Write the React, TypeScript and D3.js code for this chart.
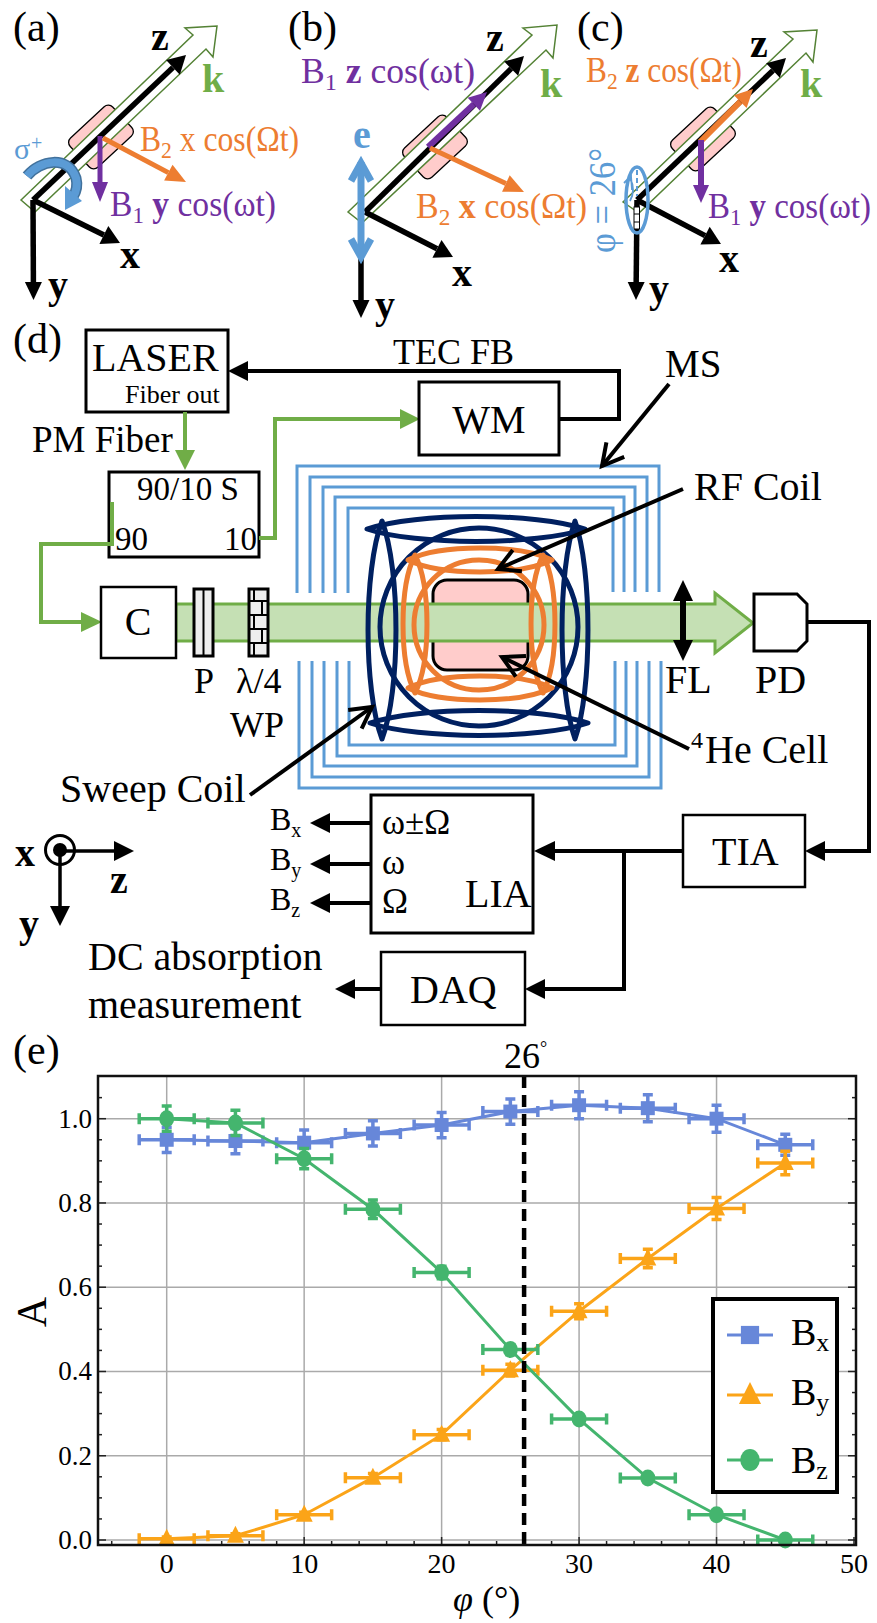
import React from "react";
import * as d3 from "d3";

// ---------- chart (e) data ----------
const angles = [0, 5, 10, 15, 20, 25, 30, 35, 40, 45];
const bxValues = [0.95, 0.947, 0.943, 0.965, 0.985, 1.017, 1.032, 1.025, 1.0, 0.938];
const byValues = [0.003, 0.01, 0.06, 0.148, 0.25, 0.403, 0.543, 0.668, 0.787, 0.895];
const bzValues = [1.0, 0.99, 0.905, 0.785, 0.635, 0.452, 0.287, 0.147, 0.06, 0.0];
const bxErrors = [0.03, 0.03, 0.03, 0.03, 0.03, 0.03, 0.032, 0.032, 0.032, 0.025];
const byErrors = [0.004, 0.005, 0.006, 0.01, 0.012, 0.014, 0.018, 0.022, 0.026, 0.028];
const bzErrors = [0.03, 0.03, 0.024, 0.022, 0.015, 0.012, 0.01, 0.01, 0.008, 0.008];
const angleError = 2;
const xTickValues = [0, 10, 20, 30, 40, 50];
const yTickValues = [0, 0.2, 0.4, 0.6, 0.8, 1.0];
const markedAngle = 26;

const F = "'Liberation Serif', serif";
const PURPLE = "#7030a0";
const ORANGE = "#ed7d31";
const GREEN = "#70ad47";
const BLUE = "#5b9bd5";
const NAVY = "#002060";
const PINK = "#ffcccb";
const BEAM = "#c5e0b4";
const CX = "#6787d9";
const CY = "#fba418";
const CZ = "#44b56e";

type A = { x1: number; y1: number; x2: number; y2: number; c?: string; w?: number; hl?: number; hw?: number };
function Arrow({ x1, y1, x2, y2, c = "#000", w = 5, hl = 20, hw = 20 }: A) {
  const a = Math.atan2(y2 - y1, x2 - x1);
  const bx = x2 - hl * Math.cos(a), by = y2 - hl * Math.sin(a);
  const nx = -Math.sin(a) * hw / 2, ny = Math.cos(a) * hw / 2;
  return (
    <g>
      <line x1={x1} y1={y1} x2={bx} y2={by} stroke={c} strokeWidth={w} />
      <polygon points={`${x2},${y2} ${bx + nx},${by + ny} ${bx - nx},${by - ny}`} fill={c} />
    </g>
  );
}
function OpenArrow({ x1, y1, x2, y2, w = 4, hl = 24 }: A) {
  const a = Math.atan2(y2 - y1, x2 - x1);
  const p = (s: number) => `${x2 - hl * Math.cos(a + s)},${y2 - hl * Math.sin(a + s)}`;
  return (
    <g fill="none" stroke="#000" strokeWidth={w}>
      <line x1={x1} y1={y1} x2={x2} y2={y2} />
      <polyline points={`${p(0.5)} ${x2},${y2} ${p(-0.5)}`} />
    </g>
  );
}
function T({ x, y, s = 40, c = "#000", b = false, i = false, children, len, anchor }: any) {
  return (
    <text x={x} y={y} fontFamily={F} fontSize={s} fill={c} fontWeight={b ? 700 : 400} fontStyle={i ? "italic" : "normal"}
      textLength={len} lengthAdjust={len ? "spacing" : undefined} textAnchor={anchor}>
      {children}
    </text>
  );
}
function Field({ x, y, c, sub, axis, bold, freq, len }: any) {
  return (
    <text x={x} y={y} fontFamily={F} fontSize={35} fill={c} textLength={len} lengthAdjust="spacingAndGlyphs">
      B<tspan dy={7} fontSize={24}>{sub}</tspan>
      <tspan dy={-7}> </tspan>
      <tspan fontWeight={bold ? 700 : 400}>{axis}</tspan> cos({freq}t)
    </text>
  );
}
function Hollow({ pts }: { pts: string }) {
  return <polygon points={pts} fill="#fff" stroke="#548235" strokeWidth={1.5} strokeLinejoin="miter" />;
}
function Cell({ cx, cy }: { cx: number; cy: number }) {
  return <rect x={cx - 29} y={cy - 20} width={58} height={40} rx={6} transform={`rotate(-43 ${cx} ${cy})`} fill={PINK} stroke="#000" strokeWidth={1.3} />;
}
function Lens({ cx, cy, hw, hh, vertical, c }: any) {
  const k = 1.33;
  const d = vertical
    ? `M${cx},${cy - hw} C${cx - hh * k},${cy - hw * 0.55} ${cx - hh * k},${cy + hw * 0.55} ${cx},${cy + hw} C${cx + hh * k},${cy + hw * 0.55} ${cx + hh * k},${cy - hw * 0.55} ${cx},${cy - hw}Z`
    : `M${cx - hw},${cy} C${cx - hw * 0.55},${cy - hh * k} ${cx + hw * 0.55},${cy - hh * k} ${cx + hw},${cy} C${cx + hw * 0.55},${cy + hh * k} ${cx - hw * 0.55},${cy + hh * k} ${cx - hw},${cy}Z`;
  return <path d={d} fill="none" stroke={c} strokeWidth={5} strokeLinejoin="round" />;
}

// shield lines: one item per layer
const shieldTop = [466, 477, 487, 497, 508];
const shieldBottom = [788, 777, 766, 756, 745];
const shieldLeftTop = [297, 310, 323, 335, 348];
const shieldRightTop = [659, 647, 635, 624, 613];
const shieldLeftBottom = [299, 312, 324, 337, 349];
const shieldRightBottom = [661, 649, 637, 626, 615];

function Schematic() {
  return (
    <g>
      {/* (a) */}
      <T x={13} y={41} s={42}>(a)</T>
      <Cell cx={101} cy={137} />
      <Hollow pts="21,200 193,35 185,28 217,26 213,57 206,49 35,212" />
      <Arrow x1={33} y1={200} x2={186} y2={55} w={5.5} hl={18} hw={20} />
      <Arrow x1={33} y1={200} x2={33.5} y2={300} w={5.5} hl={18} hw={17} />
      <Arrow x1={33} y1={200} x2={120} y2={243} w={5.5} hl={18} hw={20} />
      <Arrow x1={100} y1={136} x2={100} y2={202} c={PURPLE} hl={20} hw={16} />
      <Arrow x1={103} y1={138} x2={186} y2={182} c={ORANGE} hl={20} hw={18} />
      <path d="M27,176 C40,160 68,155 76,178 C78,186 76,192 73,197" fill="none" stroke="#41719c" strokeWidth={11} />
      <path d="M27,176 C40,160 68,155 76,178 C78,186 76,192 73,197" fill="none" stroke={BLUE} strokeWidth={8} />
      <polygon points="65,210 82,201 65,186" fill={BLUE} />
      <T x={14} y={159} s={30} c={BLUE}>σ</T>
      <T x={31} y={150} s={20} c={BLUE}>+</T>
      <T x={151} y={50} s={40} b>z</T>
      <T x={202} y={92} s={40} b c={GREEN}>k</T>
      <T x={120} y={268} s={40} b>x</T>
      <T x={48} y={298} s={40} b>y</T>
      <Field x={140} y={151} c={ORANGE} sub="2" axis="x" freq="Ω" len={159} />
      <Field x={110} y={216} c={PURPLE} sub="1" axis="y" bold freq="ω" len={166} />

      {/* (b) */}
      <T x={288} y={41} s={42}>(b)</T>
      <Cell cx={435} cy={147} />
      <Hollow pts="348,212 532,35 523,28 557,25 553,58 546,50 362,223" />
      <Arrow x1={365} y1={212} x2={524} y2={56} w={5.5} hl={18} hw={20} />
      <Arrow x1={361} y1={212} x2={361} y2={318} w={5.5} hl={18} hw={17} />
      <Arrow x1={365} y1={212} x2={453} y2={257} w={5.5} hl={18} hw={20} />
      <Arrow x1={428} y1={147} x2={487} y2={92} c={PURPLE} w={6} hl={18} hw={18} />
      <Arrow x1={430} y1={148} x2={524} y2={192} c={ORANGE} hl={20} hw={18} />
      <line x1={361} y1={162} x2={361} y2={256} stroke={BLUE} strokeWidth={7} />
      <polyline points="351,181 361,163 371,181" fill="none" stroke={BLUE} strokeWidth={7} />
      <polyline points="351,239 361,257 371,239" fill="none" stroke={BLUE} strokeWidth={7} />
      <T x={353} y={148} s={40} b c={BLUE}>e</T>
      <T x={486} y={51} s={40} b>z</T>
      <T x={540} y={97} s={40} b c={GREEN}>k</T>
      <T x={452} y={286} s={40} b>x</T>
      <T x={375} y={318} s={40} b>y</T>
      <Field x={301} y={83} c={PURPLE} sub="1" axis="z" bold freq="ω" len={174} />
      <Field x={416} y={218} c={ORANGE} sub="2" axis="x" bold freq="Ω" len={171} />

      {/* (c) */}
      <T x={577} y={41} s={42}>(c)</T>
      <Cell cx={703} cy={139} />
      <Hollow pts="623,202 793,39 784,32 817,30 813,62 806,53 639,213" />
      <Arrow x1={637} y1={200} x2={786} y2={58} w={5.5} hl={18} hw={20} />
      <Arrow x1={637} y1={200} x2={636} y2={300} w={5.5} hl={18} hw={17} />
      <Arrow x1={637} y1={200} x2={721} y2={244} w={5.5} hl={18} hw={20} />
      <Arrow x1={700} y1={142} x2={753} y2={89} c={ORANGE} w={6} hl={18} hw={18} />
      <Arrow x1={701} y1={140} x2={701} y2={203} c={PURPLE} w={6} hl={18} hw={16} />
      <rect x={634} y={207} width={5.5} height={22} fill="#fff" stroke="#000" strokeWidth={1} />
      <path d="M634,214 h5.5 M634,222 h5.5" stroke="#000" strokeWidth={1} />
      <line x1={637} y1={170} x2={637} y2={196} stroke={BLUE} strokeWidth={2} strokeDasharray="5 3" />
      <path d="M624,183 L631,176 L632,190 M630,178 Q636,190 630,201" fill="none" stroke={BLUE} strokeWidth={1.8} />
      <ellipse cx={637} cy={200} rx={11} ry={33} fill="none" stroke={BLUE} strokeWidth={3.5} />
      <text transform="rotate(-90 615 253)" x={615} y={253} fontFamily={F} fontSize={37} fill={BLUE} textLength={105} lengthAdjust="spacingAndGlyphs">φ = 26°</text>
      <T x={750} y={57} s={40} b>z</T>
      <T x={800} y={97} s={40} b c={GREEN}>k</T>
      <T x={719} y={272} s={40} b>x</T>
      <T x={649} y={302} s={40} b>y</T>
      <Field x={586} y={82} c={ORANGE} sub="2" axis="z" bold freq="Ω" len={156} />
      <Field x={708} y={218} c={PURPLE} sub="1" axis="y" bold freq="ω" len={163} />

      {/* (d) boxes */}
      <T x={13} y={353} s={42}>(d)</T>
      <rect x={86} y={330} width={142} height={82} fill="#fff" stroke="#000" strokeWidth={3} />
      <T x={92} y={371} s={40}>LASER</T>
      <T x={125} y={403} s={26}>Fiber out</T>
      <T x={32} y={452} s={37}>PM Fiber</T>
      <Arrow x1={185} y1={412} x2={185} y2={470} c={GREEN} w={4} />
      <rect x={109} y={472} width={150} height={85} fill="#fff" stroke="#000" strokeWidth={3} />
      <T x={137} y={500} s={33}>90/10 S</T>
      <T x={115} y={550} s={33}>90</T>
      <T x={224} y={550} s={33}>10</T>
      <polyline points="259,538 275,538 275,419 402,419" fill="none" stroke={GREEN} strokeWidth={4} />
      <polygon points="420,419 400,409 400,429" fill={GREEN} />
      <polyline points="112,502 112,544 41,544 41,622 84,622" fill="none" stroke={GREEN} strokeWidth={4} />
      <polygon points="102,622 81,612 81,632" fill={GREEN} />
      <rect x={419} y={382} width={140} height={73} fill="#fff" stroke="#000" strokeWidth={3} />
      <T x={489} y={433} s={40} anchor="middle">WM</T>
      <polyline points="559,419 619,419 619,371 246,371" fill="none" stroke="#000" strokeWidth={4} />
      <polygon points="228,371 248,361 248,381" fill="#000" />
      <T x={393} y={364} s={36}>TEC FB</T>

      {/* shields */}
      <g fill="none" stroke={BLUE} strokeWidth={3}>
        {shieldTop.map((t, i) => (
          <path key={i} d={`M${shieldLeftTop[i]},593 V${t} H${shieldRightTop[i]} V592`} />
        ))}
        {shieldBottom.map((b, i) => (
          <path key={i} d={`M${shieldLeftBottom[i]},661 V${b} H${shieldRightBottom[i]} V661`} />
        ))}
      </g>

      {/* cell and beam */}
      <rect x={433} y={580} width={95} height={90} rx={14} fill={PINK} stroke="#000" strokeWidth={3} />
      <polygon points="176,604 715,604 715,593 753,623 715,653 715,641 176,641" fill={BEAM} stroke={GREEN} strokeWidth={3} />
      <rect x={101} y={587} width={75} height={71} fill="#fff" stroke="#000" strokeWidth={2.5} />
      <T x={138} y={635} s={40} anchor="middle">C</T>
      <rect x={194} y={589} width={19} height={67} fill="#eee" stroke="#000" strokeWidth={3} />
      <line x1={203.5} y1={589} x2={203.5} y2={656} stroke="#000" strokeWidth={2} />
      <rect x={249} y={589} width={19} height={67} fill="#eee" stroke="#000" strokeWidth={3} />
      <path d="M249,601 H268 M249,615 H268 M249,629 H268 M249,643 H268 M254,589 V601 M262,601 V615 M254,615 V629 M262,629 V643 M254,643 V656" stroke="#000" strokeWidth={2} fill="none" />
      <T x={194} y={693} s={36}>P</T>
      <T x={236} y={693} s={36}>λ/4</T>
      <T x={230} y={737} s={36}>WP</T>

      {/* coils */}
      <circle cx={479} cy={627} r={99} fill="none" stroke={NAVY} strokeWidth={5} />
      <Lens cx={476} cy={529} hw={109} hh={12.5} c={NAVY} />
      <Lens cx={479} cy={723} hw={109} hh={12.5} c={NAVY} />
      <Lens cx={382} cy={630} hw={109} hh={14} vertical c={NAVY} />
      <Lens cx={575} cy={630} hw={109} hh={13} vertical c={NAVY} />
      <circle cx={479} cy={625} r={65} fill="none" stroke={ORANGE} strokeWidth={5} />
      <Lens cx={480} cy={560} hw={72} hh={12} c={ORANGE} />
      <Lens cx={480} cy={688} hw={72} hh={12} c={ORANGE} />
      <Lens cx={415} cy={624} hw={69} hh={12} vertical c={ORANGE} />
      <Lens cx={543} cy={624} hw={69} hh={12} vertical c={ORANGE} />

      {/* pointers */}
      <OpenArrow x1={669} y1={384} x2={602} y2={466} />
      <OpenArrow x1={683} y1={489} x2={498} y2={569} />
      <OpenArrow x1={689} y1={749} x2={502} y2={657} />
      <OpenArrow x1={250} y1={795} x2={372} y2={707} />
      <T x={665} y={377} s={39}>MS</T>
      <T x={694} y={500} s={40}>RF Coil</T>
      <T x={691} y={748} s={24}>4</T>
      <T x={705} y={763} s={40}>He Cell</T>
      <T x={60} y={802} s={40}>Sweep Coil</T>

      {/* focusing lens, detector */}
      <line x1={683} y1={598} x2={683} y2={643} stroke="#000" strokeWidth={6} />
      <polygon points="683,580 673,601 693,601" fill="#000" />
      <polygon points="683,661 673,640 693,640" fill="#000" />
      <T x={665} y={693} s={40}>FL</T>
      <polygon points="754,594 797,594 807,604 807,641 797,651 754,651" fill="#fff" stroke="#000" strokeWidth={3} />
      <T x={755} y={693} s={40}>PD</T>
      <polyline points="807,622 869,622 869,851 823,851" fill="none" stroke="#000" strokeWidth={4} />
      <polygon points="805,851 825,841 825,861" fill="#000" />
      <rect x={683} y={815} width={122} height={72} fill="#fff" stroke="#000" strokeWidth={2.5} />
      <T x={712} y={865} s={40}>TIA</T>

      {/* LIA, DAQ */}
      <line x1={683} y1={851} x2={552} y2={851} stroke="#000" strokeWidth={4} />
      <polygon points="534,851 555,841 555,861" fill="#000" />
      <rect x={371} y={795} width={162} height={138} fill="#fff" stroke="#000" strokeWidth={3} />
      <T x={382} y={834} s={35}>ω±Ω</T>
      <T x={382} y={874} s={35}>ω</T>
      <T x={382} y={913} s={35}>Ω</T>
      <T x={465} y={907} s={40}>LIA</T>
      <Arrow x1={371} y1={823} x2={310} y2={823} w={4} />
      <Arrow x1={371} y1={864} x2={310} y2={864} w={4} />
      <Arrow x1={371} y1={903} x2={310} y2={903} w={4} />
      <T x={270} y={830} s={32}>B<tspan dy={7} fontSize={20}>x</tspan></T>
      <T x={270} y={870} s={32}>B<tspan dy={7} fontSize={20}>y</tspan></T>
      <T x={270} y={910} s={32}>B<tspan dy={7} fontSize={20}>z</tspan></T>
      <rect x={381} y={952} width={144} height={73} fill="#fff" stroke="#000" strokeWidth={2.5} />
      <T x={410} y={1003} s={40}>DAQ</T>
      <polyline points="624,851 624,989 543,989" fill="none" stroke="#000" strokeWidth={4} />
      <polygon points="525,989 545,979 545,999" fill="#000" />
      <Arrow x1={381} y1={989} x2={335} y2={989} w={4} />
      <T x={88} y={970} s={40}>DC absorption</T>
      <T x={88} y={1018} s={40}>measurement</T>

      {/* frame key */}
      <circle cx={60} cy={850} r={14.5} fill="none" stroke="#000" strokeWidth={3} />
      <circle cx={60} cy={850} r={7} fill="#000" />
      <Arrow x1={60} y1={851} x2={134} y2={851} w={3.5} />
      <Arrow x1={60} y1={850} x2={60} y2={926} w={3.5} />
      <T x={15} y={866} s={40} b>x</T>
      <T x={110} y={893} s={40} b>z</T>
      <T x={19} y={937} s={40} b>y</T>
    </g>
  );
}

const PLOT = { left: 98, right: 856, top: 1076, bottom: 1545 };
const xScale = d3.scaleLinear().domain([0, 50]).range([166.7, 854]);
const yScale = d3.scaleLinear().domain([0, 1]).range([1540, 1118.7]);
const lineGen = d3.line<number>()
  .x((_, i) => xScale(angles[i]))
  .y((v) => yScale(v));

function Marker({ kind, x, y, c, k = 1 }: any) {
  if (kind === "square") return <rect x={x - 7 * k} y={y - 7 * k} width={14 * k} height={14 * k} fill={c} />;
  if (kind === "triangle") return <polygon points={`${x},${y - 10 * k} ${x + 8.5 * k},${y + 7 * k} ${x - 8.5 * k},${y + 7 * k}`} fill={c} />;
  return <ellipse cx={x} cy={y} rx={7.5 * k} ry={8.5 * k} fill={c} />;
}
function Series({ values, errors, c, kind }: any) {
  return (
    <g>
      <path d={lineGen(values) as string} fill="none" stroke={c} strokeWidth={3} />
      {values.map((v: number, i: number) => {
        const a = angles[i];
        const xl = xScale(a - angleError), xr = xScale(a + angleError), x = xScale(a);
        const y = yScale(v), yt = yScale(v + errors[i]), yb = yScale(v - errors[i]);
        return (
          <g key={i} stroke={c} strokeWidth={3.5} fill="none">
            <path d={`M${xl},${y} H${xr} M${xl},${y - 5.5} V${y + 5.5} M${xr},${y - 5.5} V${y + 5.5}`} />
            <path d={`M${x},${yt} V${yb} M${x - 5},${yt} H${x + 5} M${x - 5},${yb} H${x + 5}`} />
            <g stroke="none"><Marker kind={kind} x={x} y={y} c={c} /></g>
          </g>
        );
      })}
    </g>
  );
}

function Chart() {
  const minorX = d3.range(-4, 51, 2).filter((v) => v % 10 !== 0);
  const minorY = d3.range(0.05, 1.1, 0.05).filter((v) => Math.abs(v * 5 - Math.round(v * 5)) > 1e-6);
  const legend = [
    { label: "x", c: CX, kind: "square", y: 1335, ty: 1345 },
    { label: "y", c: CY, kind: "triangle", y: 1395, ty: 1405 },
    { label: "z", c: CZ, kind: "circle", y: 1460, ty: 1473 },
  ];
  return (
    <g>
      <T x={13} y={1064} s={42}>(e)</T>
      <g stroke="#aaa" strokeWidth={1.5}>
        {xTickValues.slice(0, -1).map((v) => <line key={v} x1={xScale(v)} x2={xScale(v)} y1={PLOT.top} y2={PLOT.bottom} />)}
        {yTickValues.map((v) => <line key={v} x1={PLOT.left} x2={PLOT.right} y1={yScale(v)} y2={yScale(v)} />)}
      </g>
      <g stroke="#222" strokeWidth={1.5}>
        {yTickValues.map((v) => (
          <g key={v}>
            <line x1={PLOT.left} x2={PLOT.left + 8} y1={yScale(v)} y2={yScale(v)} />
            <line x1={PLOT.right} x2={PLOT.right - 8} y1={yScale(v)} y2={yScale(v)} />
          </g>
        ))}
        {minorY.map((v) => (
          <g key={v}>
            <line x1={PLOT.left} x2={PLOT.left + 4} y1={yScale(v)} y2={yScale(v)} />
            <line x1={PLOT.right} x2={PLOT.right - 4} y1={yScale(v)} y2={yScale(v)} />
          </g>
        ))}
        {xTickValues.map((v) => <line key={v} x1={xScale(v)} x2={xScale(v)} y1={PLOT.bottom} y2={PLOT.bottom - 8} />)}
        {minorX.map((v) => <line key={v} x1={xScale(v)} x2={xScale(v)} y1={PLOT.bottom} y2={PLOT.bottom - 4} />)}
      </g>
      <Series values={bxValues} errors={bxErrors} c={CX} kind="square" />
      <Series values={byValues} errors={byErrors} c={CY} kind="triangle" />
      <Series values={bzValues} errors={bzErrors} c={CZ} kind="circle" />
      <line x1={xScale(markedAngle)} x2={xScale(markedAngle)} y1={PLOT.top} y2={PLOT.bottom} stroke="#000" strokeWidth={4.5} strokeDasharray="12 7" />
      <rect x={PLOT.left} y={PLOT.top} width={PLOT.right - PLOT.left} height={PLOT.bottom - PLOT.top} fill="none" stroke="#111" strokeWidth={2.5} />
      {yTickValues.map((v) => (
        <T key={v} x={92} y={yScale(v) + 9} s={27} anchor="end">{d3.format(".1f")(v)}</T>
      ))}
      {xTickValues.map((v) => (
        <T key={v} x={xScale(v)} y={1573} s={28} anchor="middle">{v}</T>
      ))}
      <text transform="rotate(-90 46 1312)" x={46} y={1312} fontFamily={F} fontSize={42} textAnchor="middle">A</text>
      <text x={453} y={1611} fontFamily={F} fontSize={36}><tspan fontStyle="italic">φ</tspan> (°)</text>
      <T x={504} y={1068} s={36}>26</T>
      <T x={540} y={1054} s={18}>°</T>
      <rect x={713} y={1299} width={124} height={193} fill="#fff" stroke="#000" strokeWidth={4} />
      {legend.map((l) => (
        <g key={l.label}>
          <line x1={727} x2={773} y1={l.y} y2={l.y} stroke={l.c} strokeWidth={3} />
          <Marker kind={l.kind} x={750} y={l.y} c={l.c} k={1.3} />
          <T x={791} y={l.ty} s={38}>B<tspan dy={6} fontSize={26}>{l.label}</tspan></T>
        </g>
      ))}
    </g>
  );
}

export default function App() {
  return (
    <svg width={877} height={1623} viewBox="0 0 877 1623" style={{ position: "absolute", left: 0, top: 0, display: "block", background: "#fff" }}>
      <Schematic />
      <Chart />
    </svg>
  );
}
